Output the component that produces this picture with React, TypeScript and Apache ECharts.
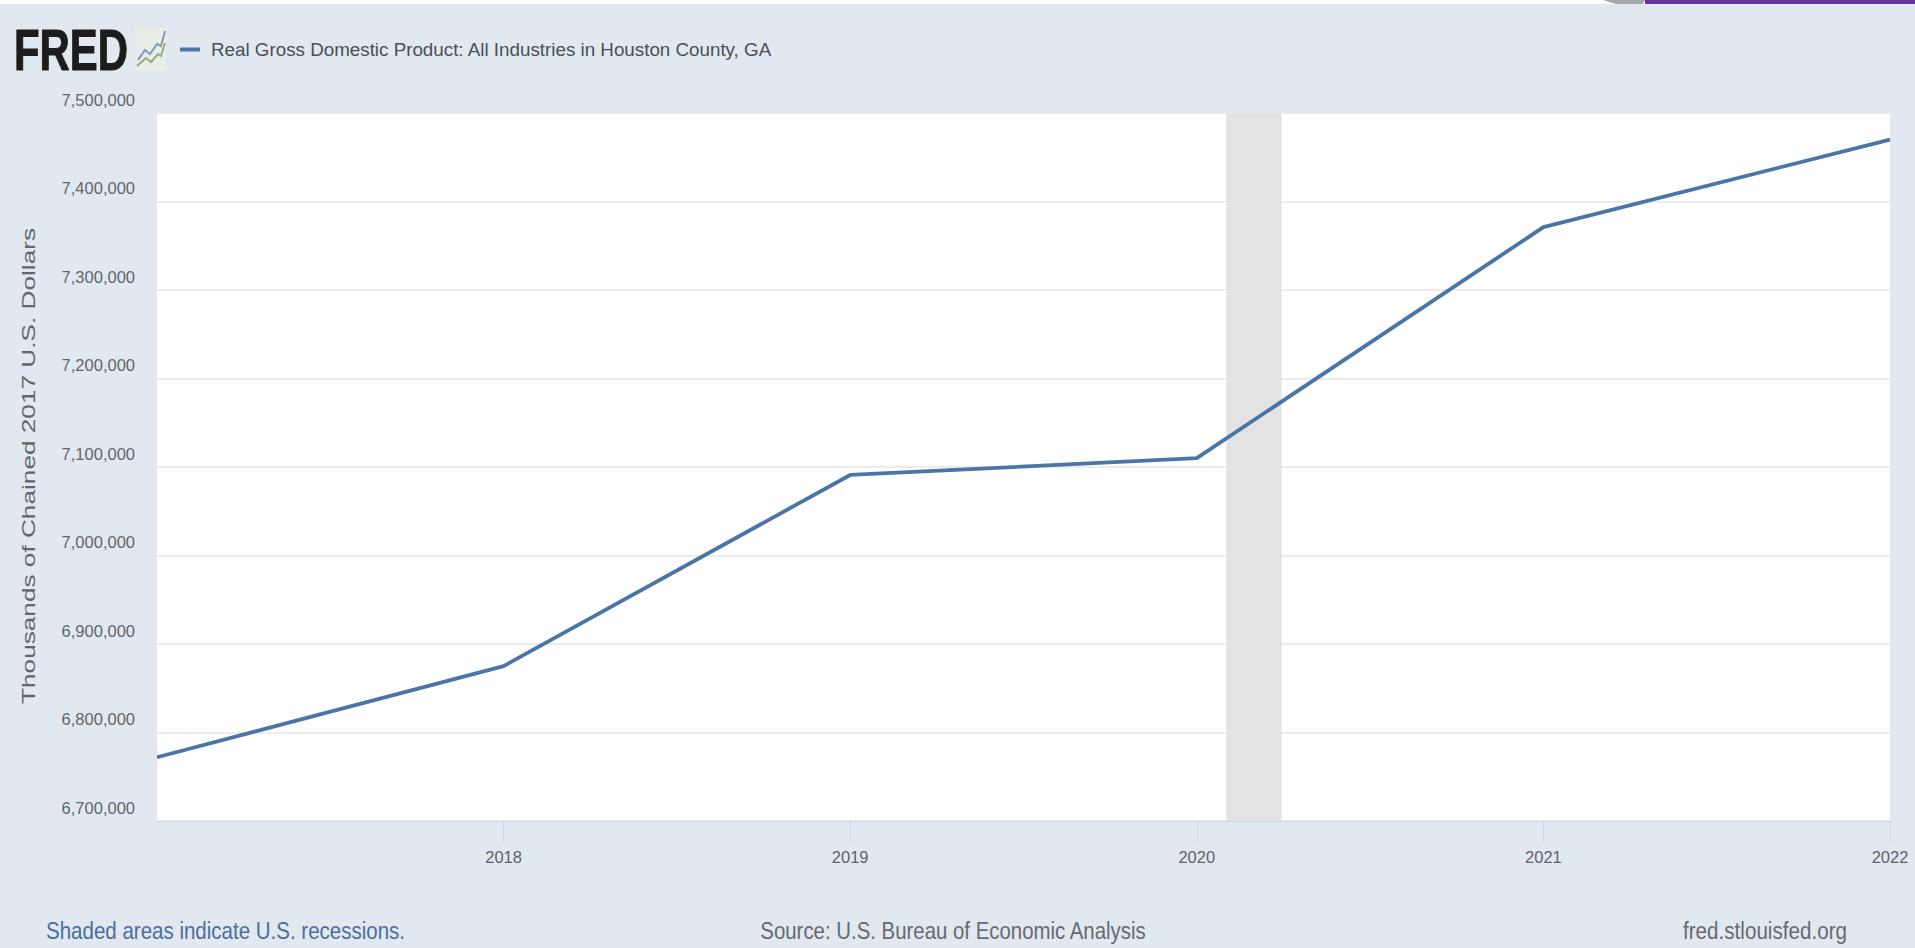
import React, { useEffect, useRef } from "react";
import * as echarts from "echarts";

const seriesName = "Real Gross Domestic Product: All Industries in Houston County, GA";
const years = [2017, 2018, 2019, 2020, 2021, 2022];
const gdpValues = [6772000, 6875000, 7091000, 7110000, 7371000, 7470000];
const tickYears = [2018, 2019, 2020, 2021, 2022];
const recessionBand = [2020.085, 2020.245];
const yAxisTitle = "Thousands of Chained 2017 U.S. Dollars";
const noteLeft = "Shaded areas indicate U.S. recessions.";
const noteCenter = "Source: U.S. Bureau of Economic Analysis";
const noteRight = "fred.stlouisfed.org";

const SANS = '"Liberation Sans", Arial, sans-serif';

export default function App() {
  const ref = useRef<HTMLDivElement>(null);
  useEffect(() => {
    if (!ref.current) return;
    const chart = echarts.init(ref.current, undefined, { renderer: "svg" });
    chart.setOption({
      animation: false,
      backgroundColor: "#e1e8f0",
      textStyle: { fontFamily: SANS },
      grid: {
        show: true,
        left: 157,
        right: 25,
        top: 113,
        bottom: 127,
        backgroundColor: "#ffffff",
        borderWidth: 0,
      },
      legend: {
        show: true,
        left: 175,
        top: 35,
        icon: "rect",
        itemWidth: 20,
        itemHeight: 4,
        textStyle: { fontFamily: SANS, fontSize: 18.8, color: "#4a4f55", padding: [0, 0, 0, 6] },
        data: [seriesName],
      },
      xAxis: {
        type: "value",
        min: 2017,
        max: 2022,
        interval: 1,
        splitLine: { show: false },
        axisLine: { show: true, lineStyle: { color: "#ccd6eb", width: 1 } },
        axisTick: { show: true, length: 20, lineStyle: { color: "#ccd6eb" }, customValues: tickYears },
        axisLabel: {
          show: true,
          customValues: tickYears,
          formatter: (v: number) => String(v),
          fontFamily: SANS,
          fontSize: 16.5,
          color: "#5f6368",
          margin: 27,
        },
      },
      yAxis: {
        type: "value",
        min: 6700000,
        max: 7500000,
        interval: 100000,
        axisLine: { show: false },
        axisTick: { show: false },
        splitLine: { show: true, lineStyle: { color: "#e6e6e6", width: 1.5 } },
        axisLabel: {
          fontFamily: SANS,
          fontSize: 16.5,
          lineHeight: 27,
          verticalAlign: "bottom",
          color: "#62666a",
          margin: 22,
          formatter: (v: number) => v.toLocaleString("en-US"),
        },
      },
      series: [
        {
          name: seriesName,
          type: "line",
          data: years.map((y, i) => [y, gdpValues[i]]),
          showSymbol: false,
          symbol: "none",
          clip: false,
          z: 5,
          lineStyle: { color: "#4a75a6", width: 3.8 },
          itemStyle: { color: "#4a75a6" },
          markArea: {
            silent: true,
            z: 1,
            itemStyle: { color: "#e3e3e3" },
            data: [[{ xAxis: recessionBand[0] }, { xAxis: recessionBand[1] }]],
          },
        },
      ],
      graphic: [
        { type: "rect", silent: true, shape: { x: 0, y: 0, width: 1915, height: 4 }, style: { fill: "#ffffff" } },
        {
          type: "polygon",
          silent: true,
          shape: { points: [[1603, 0], [1645, 0], [1643, 4], [1616, 4]] },
          style: { fill: "#a4a8a8" },
        },
        { type: "rect", silent: true, shape: { x: 1645, y: 0, width: 270, height: 4 }, style: { fill: "#663399" } },
        {
          type: "text",
          x: 14,
          y: 51,
          scaleX: 0.735,
          silent: true,
          style: {
            text: "FRED",
            fontFamily: SANS,
            fontWeight: "bold",
            fontSize: 57,
            fill: "#1c1c1e",
            stroke: "#1c1c1e",
            lineWidth: 1,
            align: "left",
            verticalAlign: "middle",
          },
        },
        { type: "rect", silent: true, shape: { x: 135, y: 28, width: 31, height: 43 }, style: { fill: "#e9ede8" } },
        {
          type: "polyline",
          silent: true,
          shape: { points: [[138, 60], [145, 50], [150, 54], [157, 44], [161, 46], [165, 31]] },
          style: { stroke: "#7f9bb5", fill: "none", lineWidth: 2 },
        },
        {
          type: "polyline",
          silent: true,
          shape: { points: [[137, 66], [146, 58], [151, 62], [158, 54], [161, 56], [165, 43]] },
          style: { stroke: "#8fae7c", fill: "none", lineWidth: 2 },
        },
        {
          type: "text",
          x: 29,
          y: 466,
          rotation: Math.PI / 2,
          scaleX: 1.455,
          silent: true,
          style: {
            text: yAxisTitle,
            fontFamily: SANS,
            fontSize: 18,
            fill: "#62666a",
            align: "center",
            verticalAlign: "middle",
          },
        },
        {
          type: "text",
          x: 46,
          y: 931,
          scaleX: 0.855,
          silent: true,
          style: { text: noteLeft, fontFamily: SANS, fontSize: 24, fill: "#4d6d9e", align: "left", verticalAlign: "middle" },
        },
        {
          type: "text",
          x: 953,
          y: 931,
          scaleX: 0.85,
          silent: true,
          style: { text: noteCenter, fontFamily: SANS, fontSize: 24, fill: "#666a70", align: "center", verticalAlign: "middle" },
        },
        {
          type: "text",
          x: 1847,
          y: 931,
          scaleX: 0.86,
          silent: true,
          style: { text: noteRight, fontFamily: SANS, fontSize: 24, fill: "#666a70", align: "right", verticalAlign: "middle" },
        },
      ],
    });
    return () => chart.dispose();
  }, []);
  return <div ref={ref} style={{ position: "fixed", left: 0, top: 0, width: 1915, height: 948 }} />;
}
